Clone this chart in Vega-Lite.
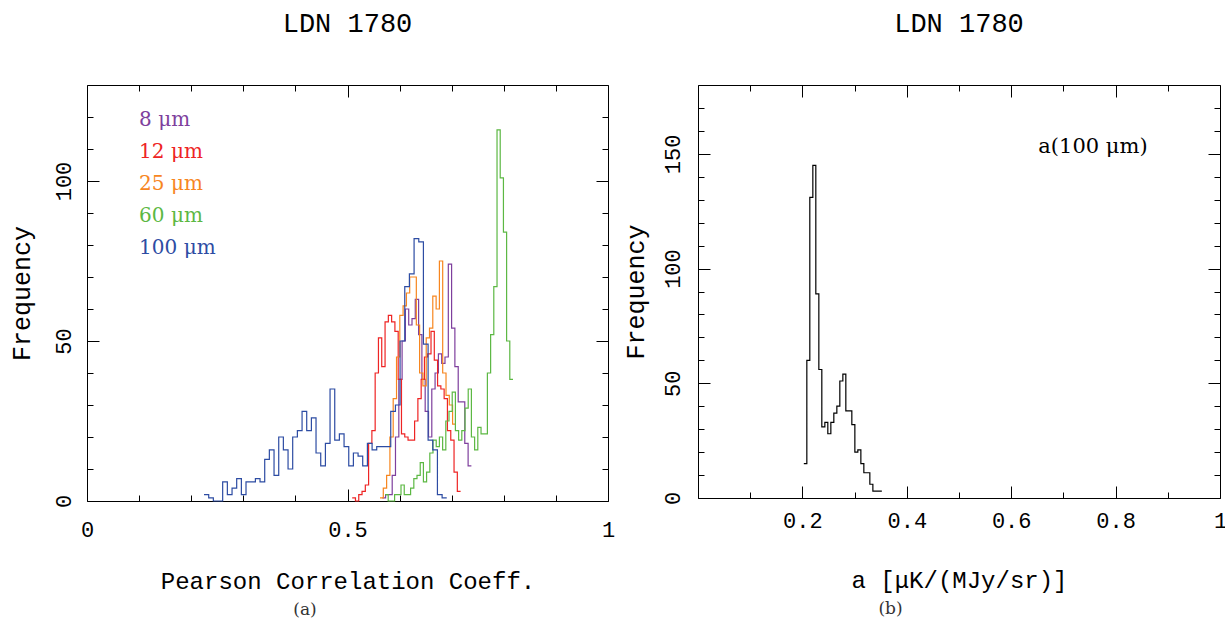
{
  "$schema": "https://vega.github.io/schema/vega-lite/v6.json",
  "background": "white",
  "padding": {"left": 9, "top": 9, "right": 0, "bottom": 0},
  "config": {
    "view": {"stroke": null},
    "axis": {"grid": false, "domainColor": "#000", "domainWidth": 1, "tickColor": "#000", "tickWidth": 1,
      "labelFont": "Liberation Mono", "labelFontSize": 22, "labelColor": "#000",
      "titleFont": "Liberation Mono", "titleFontSize": 24, "titleFontWeight": "normal", "titleColor": "#000",
      "labelOverlap": false, "labelFlush": false, "labelBound": false},
    "title": {"font": "Liberation Mono", "fontSize": 27, "fontWeight": "normal", "color": "#000", "baseline": "alphabetic", "anchor": "middle"}
  },
  "datasets": {
    "left": [
      {"b":"8","x":0.5668,"n":1},{"b":"8","x":0.5731,"n":2},{"b":"8","x":0.5795,"n":2},{"b":"8","x":0.5858,"n":8},{"b":"8","x":0.5921,"n":20},{"b":"8","x":0.5985,"n":38},{"b":"8","x":0.6048,"n":50},{"b":"8","x":0.6111,"n":60},{"b":"8","x":0.6175,"n":55},{"b":"8","x":0.6238,"n":57},{"b":"8","x":0.6301,"n":63},{"b":"8","x":0.6365,"n":52},{"b":"8","x":0.6428,"n":38},{"b":"8","x":0.6491,"n":28},{"b":"8","x":0.6555,"n":20},{"b":"8","x":0.6618,"n":35},{"b":"8","x":0.6681,"n":40},{"b":"8","x":0.6745,"n":46},{"b":"8","x":0.6808,"n":43},{"b":"8","x":0.6871,"n":45},{"b":"8","x":0.6935,"n":74},{"b":"8","x":0.6998,"n":54},{"b":"8","x":0.7061,"n":42},{"b":"8","x":0.7125,"n":31},{"b":"8","x":0.7188,"n":31},{"b":"8","x":0.7251,"n":18},{"b":"8","x":0.7315,"n":11},{"b":"8","x":0.7378,"n":11},
      {"b":"12","x":0.5090,"n":1},{"b":"12","x":0.5153,"n":0},{"b":"12","x":0.5216,"n":2},{"b":"12","x":0.5279,"n":3},{"b":"12","x":0.5342,"n":5},{"b":"12","x":0.5405,"n":18},{"b":"12","x":0.5468,"n":22},{"b":"12","x":0.5531,"n":40},{"b":"12","x":0.5594,"n":51},{"b":"12","x":0.5657,"n":42},{"b":"12","x":0.5721,"n":56},{"b":"12","x":0.5784,"n":58},{"b":"12","x":0.5847,"n":56},{"b":"12","x":0.5910,"n":53},{"b":"12","x":0.5973,"n":38},{"b":"12","x":0.6036,"n":21},{"b":"12","x":0.6099,"n":20},{"b":"12","x":0.6162,"n":19},{"b":"12","x":0.6225,"n":19},{"b":"12","x":0.6288,"n":25},{"b":"12","x":0.6351,"n":32},{"b":"12","x":0.6414,"n":38},{"b":"12","x":0.6477,"n":45},{"b":"12","x":0.6540,"n":46},{"b":"12","x":0.6603,"n":53},{"b":"12","x":0.6666,"n":44},{"b":"12","x":0.6729,"n":36},{"b":"12","x":0.6792,"n":35},{"b":"12","x":0.6855,"n":32},{"b":"12","x":0.6918,"n":22},{"b":"12","x":0.6982,"n":19},{"b":"12","x":0.7045,"n":9},{"b":"12","x":0.7108,"n":3},{"b":"12","x":0.7171,"n":3},
      {"b":"25","x":0.5624,"n":1},{"b":"25","x":0.5687,"n":4},{"b":"25","x":0.5751,"n":8},{"b":"25","x":0.5814,"n":20},{"b":"25","x":0.5877,"n":32},{"b":"25","x":0.5941,"n":45},{"b":"25","x":0.6004,"n":58},{"b":"25","x":0.6067,"n":61},{"b":"25","x":0.6131,"n":65},{"b":"25","x":0.6194,"n":70},{"b":"25","x":0.6257,"n":70},{"b":"25","x":0.6321,"n":55},{"b":"25","x":0.6384,"n":40},{"b":"25","x":0.6447,"n":36},{"b":"25","x":0.6511,"n":51},{"b":"25","x":0.6574,"n":54},{"b":"25","x":0.6637,"n":64},{"b":"25","x":0.6701,"n":60},{"b":"25","x":0.6764,"n":75},{"b":"25","x":0.6827,"n":40},{"b":"25","x":0.6891,"n":33},{"b":"25","x":0.6954,"n":30},{"b":"25","x":0.7017,"n":24},{"b":"25","x":0.7081,"n":24},
      {"b":"60","x":0.5720,"n":2},{"b":"60","x":0.5781,"n":0},{"b":"60","x":0.5843,"n":0},{"b":"60","x":0.5904,"n":2},{"b":"60","x":0.5966,"n":2},{"b":"60","x":0.6027,"n":5},{"b":"60","x":0.6089,"n":2},{"b":"60","x":0.6150,"n":2},{"b":"60","x":0.6211,"n":4},{"b":"60","x":0.6273,"n":7},{"b":"60","x":0.6334,"n":8},{"b":"60","x":0.6396,"n":12},{"b":"60","x":0.6457,"n":6},{"b":"60","x":0.6518,"n":9},{"b":"60","x":0.6580,"n":15},{"b":"60","x":0.6641,"n":19},{"b":"60","x":0.6703,"n":17},{"b":"60","x":0.6764,"n":20},{"b":"60","x":0.6826,"n":16},{"b":"60","x":0.6887,"n":25},{"b":"60","x":0.6948,"n":28},{"b":"60","x":0.7010,"n":34},{"b":"60","x":0.7071,"n":22},{"b":"60","x":0.7133,"n":19},{"b":"60","x":0.7194,"n":22},{"b":"60","x":0.7256,"n":29},{"b":"60","x":0.7317,"n":35},{"b":"60","x":0.7378,"n":20},{"b":"60","x":0.7440,"n":16},{"b":"60","x":0.7501,"n":23},{"b":"60","x":0.7563,"n":21},{"b":"60","x":0.7624,"n":21},{"b":"60","x":0.7685,"n":40},{"b":"60","x":0.7747,"n":52},{"b":"60","x":0.7808,"n":67},{"b":"60","x":0.7870,"n":116},{"b":"60","x":0.7931,"n":101},{"b":"60","x":0.7993,"n":84},{"b":"60","x":0.8054,"n":50},{"b":"60","x":0.8115,"n":38},{"b":"60","x":0.8177,"n":38},
      {"b":"100","x":0.2246,"n":2},{"b":"100","x":0.2336,"n":1},{"b":"100","x":0.2425,"n":0},{"b":"100","x":0.2515,"n":0},{"b":"100","x":0.2604,"n":6},{"b":"100","x":0.2694,"n":2},{"b":"100","x":0.2784,"n":4},{"b":"100","x":0.2873,"n":7},{"b":"100","x":0.2963,"n":2},{"b":"100","x":0.3052,"n":6},{"b":"100","x":0.3142,"n":6},{"b":"100","x":0.3232,"n":7},{"b":"100","x":0.3321,"n":6},{"b":"100","x":0.3411,"n":13},{"b":"100","x":0.3500,"n":16},{"b":"100","x":0.3590,"n":8},{"b":"100","x":0.3680,"n":20},{"b":"100","x":0.3769,"n":16},{"b":"100","x":0.3859,"n":10},{"b":"100","x":0.3948,"n":20},{"b":"100","x":0.4038,"n":22},{"b":"100","x":0.4128,"n":28},{"b":"100","x":0.4217,"n":22},{"b":"100","x":0.4307,"n":26},{"b":"100","x":0.4396,"n":15},{"b":"100","x":0.4486,"n":11},{"b":"100","x":0.4576,"n":18},{"b":"100","x":0.4665,"n":35},{"b":"100","x":0.4755,"n":19},{"b":"100","x":0.4844,"n":21},{"b":"100","x":0.4934,"n":17},{"b":"100","x":0.5024,"n":11},{"b":"100","x":0.5113,"n":15},{"b":"100","x":0.5203,"n":14},{"b":"100","x":0.5292,"n":11},{"b":"100","x":0.5382,"n":18},{"b":"100","x":0.5472,"n":16},{"b":"100","x":0.5561,"n":17},{"b":"100","x":0.5651,"n":17},{"b":"100","x":0.5740,"n":17},{"b":"100","x":0.5830,"n":28},{"b":"100","x":0.5920,"n":30},{"b":"100","x":0.6009,"n":50},{"b":"100","x":0.6099,"n":67},{"b":"100","x":0.6188,"n":71},{"b":"100","x":0.6278,"n":82},{"b":"100","x":0.6368,"n":81},{"b":"100","x":0.6457,"n":49},{"b":"100","x":0.6547,"n":19},{"b":"100","x":0.6636,"n":16},{"b":"100","x":0.6726,"n":2},{"b":"100","x":0.6816,"n":1},{"b":"100","x":0.6905,"n":1}
    ],
    "leftLabels": [
      {"b":"8","label":"8 μm","x":0.1,"y":119},
      {"b":"12","label":"12 μm","x":0.1,"y":109},
      {"b":"25","label":"25 μm","x":0.1,"y":99},
      {"b":"60","label":"60 μm","x":0.1,"y":89},
      {"b":"100","label":"100 μm","x":0.1,"y":79}
    ],
    "right": [
      {"x":0.2027,"n":15},{"x":0.2085,"n":60},{"x":0.2142,"n":131},{"x":0.2200,"n":145},{"x":0.2257,"n":89},{"x":0.2315,"n":56},{"x":0.2372,"n":31},{"x":0.2430,"n":33},{"x":0.2487,"n":28},{"x":0.2545,"n":33},{"x":0.2602,"n":37},{"x":0.2660,"n":40},{"x":0.2717,"n":51},{"x":0.2775,"n":54},{"x":0.2832,"n":38},{"x":0.2890,"n":38},{"x":0.2947,"n":32},{"x":0.3005,"n":20},{"x":0.3062,"n":21},{"x":0.3120,"n":15},{"x":0.3177,"n":11},{"x":0.3235,"n":11},{"x":0.3292,"n":6},{"x":0.3350,"n":3},{"x":0.3407,"n":3},{"x":0.3465,"n":3},{"x":0.3522,"n":3}
    ],
    "rightLabels": [
      {"label":"a(100 μm)","x":0.652,"y":153}
    ]
  },
  "hconcat": [
    {
      "spacing": 7,
      "vconcat": [
        {
          "width": 521,
          "height": 416,
          "title": {"text": "LDN 1780", "offset": 47},
          "layer": [
            {
              "data": {"name": "left"},
              "mark": {"type": "line", "interpolate": "step-after", "strokeWidth": 1.2},
              "encoding": {
                "x": {"field": "x", "type": "quantitative", "scale": {"domain": [0, 1], "nice": false, "zero": false},
                  "axis": {"orient": "bottom", "values": [0,0.1,0.2,0.3,0.4,0.5,0.6,0.7,0.8,0.9,1], "format": "~g",
                    "labelExpr": "(datum.value == 0 || datum.value == 0.5 || datum.value == 1) ? datum.label : ''",
                    "tickSize": {"condition": {"test": "datum.value == 0 || datum.value == 0.5 || datum.value == 1", "value": -12}, "value": -6},
                    "labelPadding": 30, "title": "Pearson Correlation Coeff.", "titlePadding": 23}},
                "y": {"field": "n", "type": "quantitative", "scale": {"domain": [0, 130], "nice": false},
                  "axis": {"orient": "left", "values": [0,10,20,30,40,50,60,70,80,90,100,110,120],
                    "labelExpr": "datum.value % 50 == 0 ? datum.label : ''",
                    "tickSize": {"condition": {"test": "datum.value % 50 == 0", "value": -12}, "value": -6},
                    "labelAngle": 270, "labelAlign": "center", "labelBaseline": "bottom", "labelPadding": 24,
                    "title": "Frequency", "titleFontSize": 25, "titlePadding": 12}},
                "color": {"field": "b", "type": "nominal", "sort": ["8","12","25","60","100"],
                  "scale": {"domain": ["8","12","25","60","100"], "range": ["#7e3f9d","#ee2424","#f7861f","#5cb843","#2d4ca3"]}, "legend": null}
              }
            },
            {
              "data": {"name": "leftLabels"},
              "mark": {"type": "text", "align": "left", "baseline": "middle", "font": "DejaVu Serif", "fontSize": 20},
              "encoding": {
                "x": {"field": "x", "type": "quantitative", "scale": {"domain": [0, 1], "nice": false, "zero": false},
                  "axis": {"orient": "top", "values": [0,0.1,0.2,0.3,0.4,0.5,0.6,0.7,0.8,0.9,1], "labels": false, "title": null,
                    "tickSize": {"condition": {"test": "datum.value == 0 || datum.value == 0.5 || datum.value == 1", "value": -12}, "value": -6}}},
                "y": {"field": "y", "type": "quantitative", "scale": {"domain": [0, 130], "nice": false},
                  "axis": {"orient": "right", "values": [0,10,20,30,40,50,60,70,80,90,100,110,120], "labels": false, "title": null,
                    "tickSize": {"condition": {"test": "datum.value % 50 == 0", "value": -12}, "value": -6}}},
                "text": {"field": "label"},
                "color": {"field": "b", "type": "nominal", "legend": null}
              }
            }
          ],
          "resolve": {"axis": {"x": "independent", "y": "independent"}}
        },
        {
          "width": 436,
          "height": 20,
          "data": {"values": [{"c": "(a)"}]},
          "mark": {"type": "text", "font": "DejaVu Serif", "fontSize": 17, "color": "#333", "baseline": "middle"},
          "encoding": {"text": {"field": "c"}}
        }
      ]
    },
    {
      "spacing": 7,
      "vconcat": [
        {
          "width": 522,
          "height": 413,
          "title": {"text": "LDN 1780", "offset": 47},
          "layer": [
            {
              "data": {"name": "right"},
              "mark": {"type": "line", "interpolate": "step-after", "strokeWidth": 1.2, "color": "#000"},
              "encoding": {
                "x": {"field": "x", "type": "quantitative", "scale": {"domain": [0, 1], "nice": false, "zero": false},
                  "axis": {"orient": "bottom", "values": [0,0.1,0.2,0.3,0.4,0.5,0.6,0.7,0.8,0.9,1], "format": "~g",
                    "labelExpr": "(round(datum.value*10) % 2 == 0 && datum.value > 0) ? datum.label : ''",
                    "tickSize": {"condition": {"test": "round(datum.value*10) % 2 == 0", "value": -12}, "value": -6},
                    "labelPadding": 24, "title": "a [μK/(MJy/sr)]", "titlePadding": 31}},
                "y": {"field": "n", "type": "quantitative", "scale": {"domain": [0, 180], "nice": false},
                  "axis": {"orient": "left", "values": [0,10,20,30,40,50,60,70,80,90,100,110,120,130,140,150,160,170],
                    "labelExpr": "datum.value % 50 == 0 ? datum.label : ''",
                    "tickSize": {"condition": {"test": "datum.value % 50 == 0", "value": -12}, "value": -6},
                    "labelAngle": 270, "labelAlign": "center", "labelBaseline": "bottom", "labelPadding": 26,
                    "title": "Frequency", "titleFontSize": 25, "titlePadding": 7}}
              }
            },
            {
              "data": {"name": "rightLabels"},
              "mark": {"type": "text", "align": "left", "baseline": "middle", "font": "DejaVu Serif", "fontSize": 21, "color": "#000"},
              "encoding": {
                "x": {"field": "x", "type": "quantitative", "scale": {"domain": [0, 1], "nice": false, "zero": false},
                  "axis": {"orient": "top", "values": [0,0.1,0.2,0.3,0.4,0.5,0.6,0.7,0.8,0.9,1], "labels": false, "title": null,
                    "tickSize": {"condition": {"test": "round(datum.value*10) % 2 == 0", "value": -12}, "value": -6}}},
                "y": {"field": "y", "type": "quantitative", "scale": {"domain": [0, 180], "nice": false},
                  "axis": {"orient": "right", "values": [0,10,20,30,40,50,60,70,80,90,100,110,120,130,140,150,160,170], "labels": false, "title": null,
                    "tickSize": {"condition": {"test": "datum.value % 50 == 0", "value": -12}, "value": -6}}},
                "text": {"field": "label"}
              }
            }
          ],
          "resolve": {"axis": {"x": "independent", "y": "independent"}}
        },
        {
          "width": 385,
          "height": 20,
          "data": {"values": [{"c": "(b)"}]},
          "mark": {"type": "text", "font": "DejaVu Serif", "fontSize": 17, "color": "#333", "baseline": "middle"},
          "encoding": {"text": {"field": "c"}}
        }
      ]
    }
  ],
  "spacing": 8
}
